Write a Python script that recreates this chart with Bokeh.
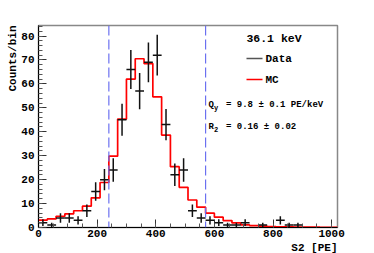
import math
from bokeh.plotting import figure
from bokeh.models import Range1d, SingleIntervalTicker, Span, Label, ColumnDataSource, Title
from bokeh.embed import file_html
from bokeh.resources import INLINE

# ---- data ----
bin_width = 30
bin_edges = list(range(0, 1021, 30))          # 0 .. 1020, 34 bins
data_counts = [2, 1, 4, 4, 3, 7, 15, 20, 24, 45, 66, 57, 69, 72, 43, 22, 24,
               7, 4, 3, 2, 1, 1, 2, 0, 1, 0, 3, 1, 1, 0, 0, 0, 0]
mc_counts = [3.1, 3.6, 4.7, 5.7, 7.0, 8.9, 12.4, 18.8, 29.8, 45.3, 62.0, 70.5,
             68.5, 54.6, 38.6, 25.4, 16.8, 11.5, 8.5, 6.0, 4.3, 2.9, 1.9, 1.1,
             0.8, 0.6, 0.4, 0.3, 0.3, 0.2, 0.2, 0.15, 0.1, 0.1]
cut_lines = [240, 570]
title_text = "36.1 keV"
legend_items = ["Data", "MC"]
qy_text = ["Q", "y", "= 9.8 \u00b1 0.1 PE/keV"]
r2_text = ["R", "2", "= 0.16 \u00b1 0.02"]
x_label = "S2 [PE]"
y_label = "Counts/bin"

XMAX, YMAX = 1020, 84.4
FONT = "Liberation Mono"

p = figure(width=374, height=253, output_backend="svg", toolbar_location=None,
           x_range=Range1d(0, XMAX), y_range=Range1d(0, YMAX),
           min_border_left=38, min_border_right=37, min_border_top=25,
           min_border_bottom=26)
p.background_fill_color = "white"
p.border_fill_color = "white"
p.outline_line_color = "#888888"
p.outline_line_width = 1.5
p.xgrid.visible = False
p.ygrid.visible = False

for ax in (p.xaxis[0], p.yaxis[0]):
    ax.axis_line_color = "black"
    ax.axis_line_width = 1
    ax.major_tick_in = 8
    ax.major_tick_out = 0
    ax.minor_tick_in = 4
    ax.minor_tick_out = 0
    ax.major_tick_line_color = "#333333"
    ax.minor_tick_line_color = "#555555"
    ax.major_label_text_font = FONT
    ax.major_label_text_font_style = "bold"
    ax.major_label_text_font_size = "11px"
    ax.major_label_text_color = "black"

p.xaxis[0].ticker = SingleIntervalTicker(interval=200, num_minor_ticks=4)
p.yaxis[0].ticker = SingleIntervalTicker(interval=10, num_minor_ticks=5)
p.xaxis[0].major_label_standoff = 2
p.yaxis[0].major_label_standoff = 4

# axis titles as side-panel titles (right/top aligned like ROOT)
p.add_layout(Title(text=x_label, align="right", text_font=FONT, text_font_style="bold",
                   text_font_size="11px", text_color="black", standoff=0, offset=0),
             "below")
p.add_layout(Title(text=y_label, align="right", text_font=FONT, text_font_style="bold",
                   text_font_size="11px", text_color="black", standoff=0, offset=0),
             "left")

# cut lines
for c in cut_lines:
    p.add_layout(Span(location=c, dimension="height", line_color="#6b70f0",
                      line_width=1.2, line_dash="10 4"))

# MC histogram
mc_step_y = mc_counts + [mc_counts[-1]]
p.step(bin_edges, mc_step_y, mode="after", line_color="#ff0000", line_width=1.7)

# data with Poisson errors
centers = [(bin_edges[i] + bin_edges[i + 1]) / 2 for i in range(len(data_counts))]
xs, ys = [], []
for c, n in zip(centers, data_counts):
    if n > 0:
        xs.append(c)
        ys.append(n)
src = ColumnDataSource(dict(
    x=xs, y=ys,
    x0=[x - bin_width / 2 for x in xs], x1=[x + bin_width / 2 for x in xs],
    y0=[y - math.sqrt(y) for y in ys], y1=[y + math.sqrt(y) for y in ys]))
p.segment(x0="x", y0="y0", x1="x", y1="y1", source=src, line_color="#111111", line_width=1.5)
p.segment(x0="x0", y0="y", x1="x1", y1="y", source=src, line_color="#111111", line_width=1.5)

# helpers for pixel -> data placement of annotation text
fx0, fy0 = 38.0, 227.0
sx = XMAX / 299.0
sy = YMAX / 202.0
def dx(px):
    return (px - fx0) * sx
def dy(py):
    return (fy0 - py) * sy

def lab(text, px, py, size, align="left", baseline="middle", color="black"):
    p.add_layout(Label(x=dx(px), y=dy(py), text=text, text_font=FONT,
                       text_font_style="bold", text_font_size=size,
                       text_align=align, text_baseline=baseline,
                       text_color=color))

lab(title_text, 273.5, 38, "11.5px", align="center")
# legend
p.segment(x0=[dx(246)], y0=[dy(58)], x1=[dx(262)], y1=[dy(58)], line_color="#555555", line_width=1.5)
p.segment(x0=[dx(246)], y0=[dy(79)], x1=[dx(262)], y1=[dy(79)], line_color="#ff0000", line_width=1.5)
lab(legend_items[0], 265, 58, "11px")
lab(legend_items[1], 265, 79, "11px")
# fit results
lab(qy_text[0], 208, 104, "9px")
lab(qy_text[1], 213.6, 107, "7px")
lab(qy_text[2], 225.5, 104, "9px")
lab(r2_text[0], 208, 126, "9px")
lab(r2_text[1], 213.6, 129, "7px")
lab(r2_text[2], 225.5, 126, "9px")

open("out.html", "w").write(file_html(p, INLINE))
